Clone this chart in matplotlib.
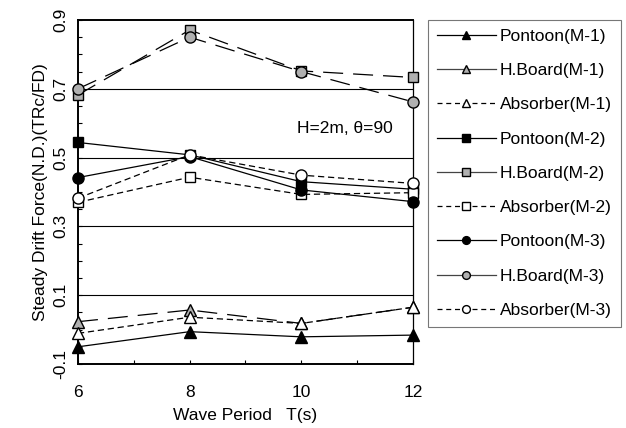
import matplotlib
matplotlib.use("Agg")
import matplotlib.pyplot as plt
from matplotlib.ticker import MultipleLocator, FixedLocator
from matplotlib.lines import Line2D

plt.rcParams['font.family'] = ['Liberation Sans', 'DejaVu Sans']

periods = [6, 8, 10, 12]
pontoon_m1 = [-0.050, -0.006, -0.021, -0.016]
hboard_m1 = [0.023, 0.057, 0.018, 0.065]
absorber_m1 = [-0.011, 0.036, 0.018, 0.065]
pontoon_m2 = [0.544, 0.508, 0.430, 0.408]
hboard_m2 = [0.682, 0.871, 0.752, 0.733]
absorber_m2 = [0.370, 0.443, 0.393, 0.398]
pontoon_m3 = [0.442, 0.503, 0.406, 0.372]
hboard_m3 = [0.700, 0.850, 0.750, 0.662]
absorber_m3 = [0.382, 0.508, 0.449, 0.425]

labels = ["Pontoon(M-1)", "H.Board(M-1)", "Absorber(M-1)",
          "Pontoon(M-2)", "H.Board(M-2)", "Absorber(M-2)",
          "Pontoon(M-3)", "H.Board(M-3)", "Absorber(M-3)"]
series = [pontoon_m1, hboard_m1, absorber_m1,
          pontoon_m2, hboard_m2, absorber_m2,
          pontoon_m3, hboard_m3, absorber_m3]
markers = ['^', '^', '^', 's', 's', 's', 'o', 'o', 'o']
faces = ['black', '#b0b0b0', 'white'] * 3
styles = ['solid', 'hboard', 'absorber'] * 3

FS = 12.5

fig = plt.figure(figsize=(6.26, 4.28), dpi=100)
ax = fig.add_axes([78/626, 1-364/428, 335/626, 344/428])

for gy in [0.1, 0.3, 0.5, 0.7]:
    ax.axhline(gy, color='black', lw=0.8, zorder=1)

handles = []
for lab, vals, mk, fc, st in zip(labels, series, markers, faces, styles):
    ms = 8 if mk != 's' else 7.5
    kw = dict(color='black', lw=0.9, marker=mk, markersize=ms,
              markerfacecolor=fc, markeredgecolor='black', markeredgewidth=1.0,
              clip_on=False, zorder=3)
    if st == 'hboard':
        kw['dashes'] = (16, 8)
    elif st == 'absorber':
        kw['dashes'] = (5, 3)
    ax.plot(periods, vals, **kw)
    hk = dict(color='black' if st != 'hboard' else '#444444', lw=0.9, marker=mk,
              markersize=ms * 0.7, markerfacecolor=fc, markeredgecolor='black',
              markeredgewidth=1.0)
    if st == 'absorber':
        hk['dashes'] = (4, 3)
    handles.append(Line2D([], [], label=lab, **hk))

ax.set_xlim(6, 12)
ax.set_ylim(-0.1, 0.9)
ax.xaxis.set_major_locator(FixedLocator([6, 8, 10, 12]))
ax.xaxis.set_minor_locator(MultipleLocator(1))
ax.yaxis.set_major_locator(FixedLocator([-0.1, 0.1, 0.3, 0.5, 0.7, 0.9]))
ax.yaxis.set_minor_locator(MultipleLocator(0.05))
ax.set_yticklabels(['-0.1', '0.1', '0.3', '0.5', '0.7', '0.9'], rotation=90, va='center')
ax.tick_params(axis='both', which='both', direction='in', length=3, width=0.8,
               labelsize=FS, top=False, right=False)
ax.tick_params(axis='x', pad=15)
ax.tick_params(axis='y', pad=7)
for s in ['left', 'bottom', 'top']:
    ax.spines[s].set_linewidth(1.4)
ax.spines['right'].set_linewidth(0.9)

ax.set_xlabel('Wave Period   T(s)', fontsize=FS, labelpad=6)
ax.set_ylabel('Steady Drift Force(N.D.)(TRc/FD)', fontsize=FS, labelpad=4)

ax.text(9.92, 0.586, 'H=2m, θ=90', fontsize=FS, va='center', ha='left')

leg = fig.legend(handles=handles, loc='upper left', bbox_to_anchor=(428/626, 1-20/428),
                 fontsize=FS, frameon=True, fancybox=False, edgecolor='#555555',
                 handlelength=3.4, labelspacing=1.1, borderpad=0.5,
                 handletextpad=0.25, borderaxespad=0)
leg.get_frame().set_linewidth(0.8)

fig.savefig('out.png', dpi=100)
